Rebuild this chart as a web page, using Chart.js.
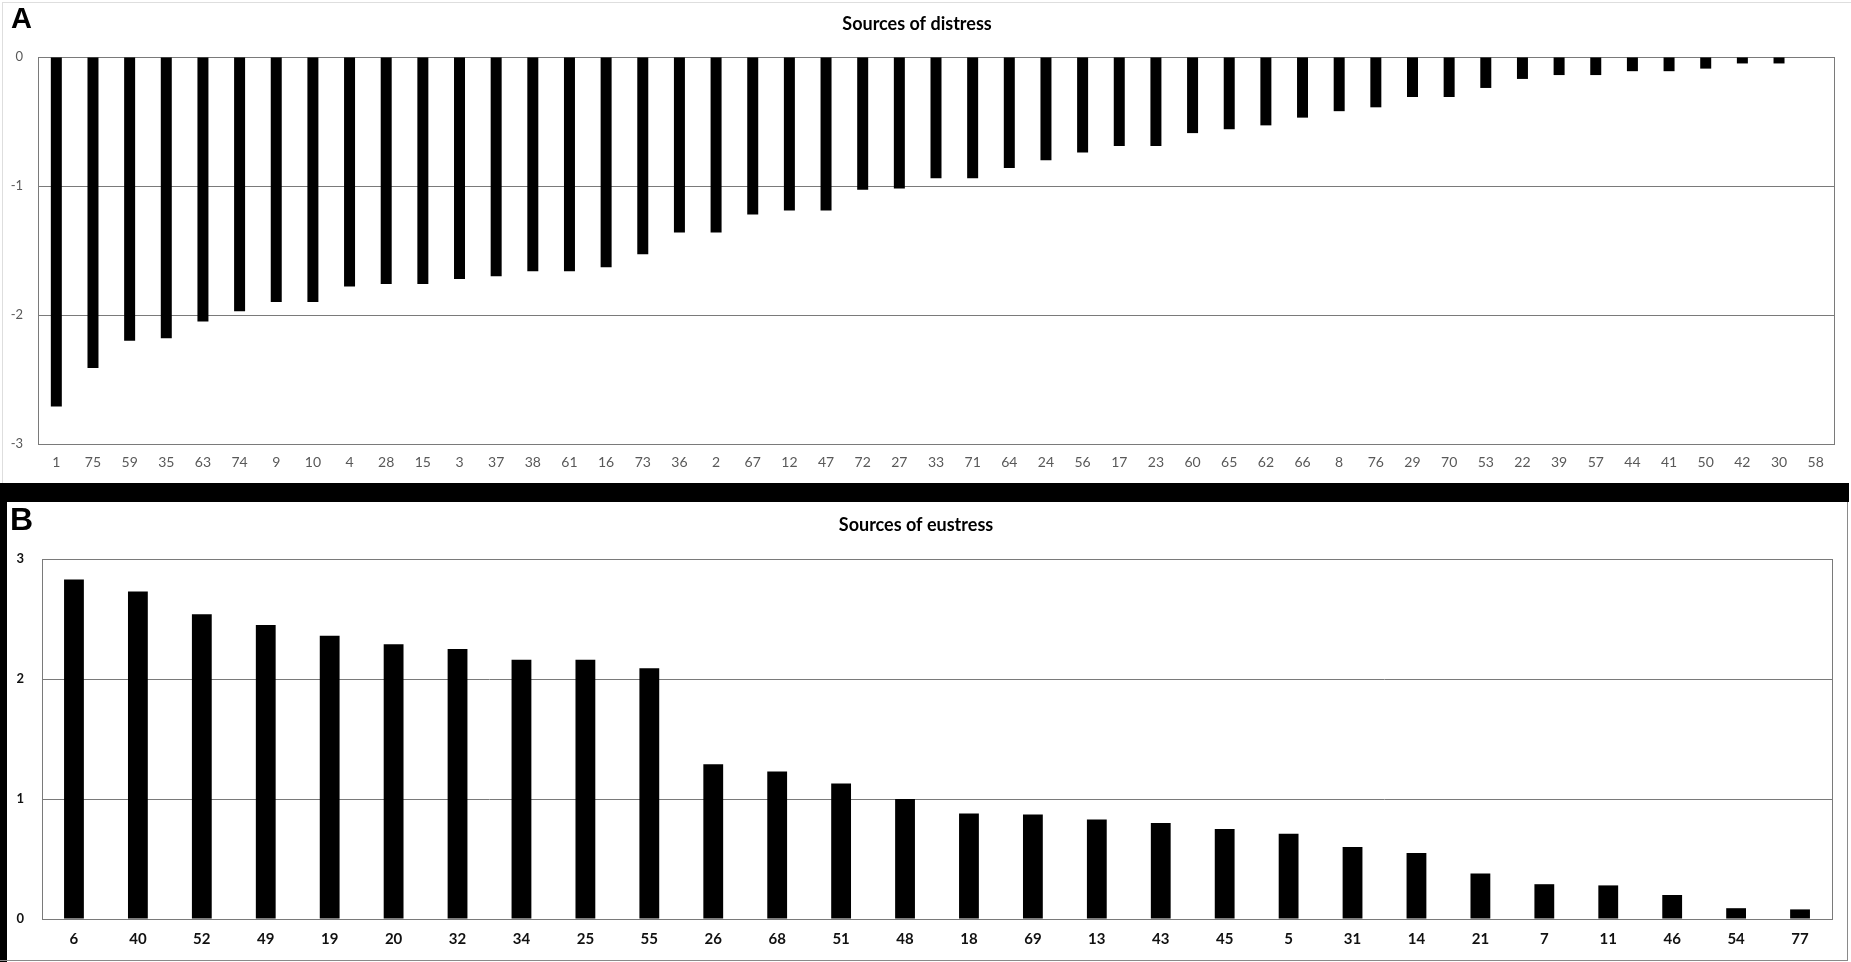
<!DOCTYPE html>
<html>
<head>
<meta charset="utf-8">
<script src="https://cdn.jsdelivr.net/npm/chart.js@4/dist/chart.umd.min.js"></script>
<style>
  body { margin: 0; background: #fff; }
  .box { position: absolute; }
  .letra { position: absolute; font-family: "Liberation Sans", Arial, sans-serif; font-weight: bold; line-height: 1; color: #000; }
</style>
</head>
<body>
<div class="box" style="left:2px;top:2px;width:1849px;height:481px;border-top:1px solid #dedede;border-left:1px solid #dedede;"></div>
<div class="box" style="left:0;top:0;width:1851px;height:483px;"><canvas id="distressChart"></canvas></div>
<div class="letra" style="left:11px;top:4px;font-size:29px;">A</div>

<div class="box" style="left:0;top:483px;width:1849px;height:19px;background:#000;"></div>
<div class="box" style="left:0;top:502px;width:1851px;height:460px;"><canvas id="eustressChart"></canvas></div>
<div class="box" style="left:0;top:483px;width:7px;height:479px;background:#000;"></div>
<div class="box" style="left:1847px;top:502px;width:1px;height:459px;background:#8a8a8a;"></div>
<div class="box" style="left:0;top:960px;width:1848px;height:1px;background:#8a8a8a;"></div>
<div class="letra" style="left:10px;top:503px;font-size:32px;">B</div>

<script>
const distressLabels = ["1", "75", "59", "35", "63", "74", "9", "10", "4", "28", "15", "3", "37", "38", "61", "16", "73", "36", "2", "67", "12", "47", "72", "27", "33", "71", "64", "24", "56", "17", "23", "60", "65", "62", "66", "8", "76", "29", "70", "53", "22", "39", "57", "44", "41", "50", "42", "30", "58"];
const distressValues = [-2.71, -2.41, -2.20, -2.18, -2.05, -1.97, -1.90, -1.90, -1.78, -1.76, -1.76, -1.72, -1.70, -1.66, -1.66, -1.63, -1.53, -1.36, -1.36, -1.22, -1.19, -1.19, -1.03, -1.02, -0.94, -0.94, -0.86, -0.80, -0.74, -0.69, -0.69, -0.59, -0.56, -0.53, -0.47, -0.42, -0.39, -0.31, -0.31, -0.24, -0.17, -0.14, -0.14, -0.11, -0.11, -0.09, -0.05, -0.05, 0];
const distressTicks = [0, -1, -2, -3];

const eustressLabels = ["6", "40", "52", "49", "19", "20", "32", "34", "25", "55", "26", "68", "51", "48", "18", "69", "13", "43", "45", "5", "31", "14", "21", "7", "11", "46", "54", "77"];
const eustressValues = [2.83, 2.73, 2.54, 2.45, 2.36, 2.29, 2.25, 2.16, 2.16, 2.09, 1.29, 1.23, 1.13, 1.00, 0.88, 0.87, 0.83, 0.80, 0.75, 0.71, 0.60, 0.55, 0.38, 0.29, 0.28, 0.20, 0.09, 0.08];
const eustressTicks = [0, 1, 2, 3];

const gridColor = "#7a7a7a";

// contorno da area do grafico
const moldura = {
  id: "moldura",
  beforeDatasetsDraw(chart) {
    const a = chart.chartArea;
    const c = chart.ctx;
    c.save();
    c.strokeStyle = gridColor;
    c.lineWidth = 1;
    c.strokeRect(Math.round(a.left) + 0.5, Math.round(a.top) + 0.5, Math.round(a.right - a.left), Math.round(a.bottom - a.top));
    c.restore();
  },
};

function criarGrafico(id, labels, values, ticks, opts) {
  const ctx = document.getElementById(id).getContext("2d");
  return new Chart(ctx, {
    type: "bar",
    data: {
      labels: labels,
      datasets: [
        {
          data: values,
          backgroundColor: "#000",
          borderWidth: 0,
          barPercentage: 1,
          categoryPercentage: opts.barRatio,
        },
      ],
    },
    options: {
      responsive: true,
      maintainAspectRatio: false,
      animation: false,
      layout: { padding: { left: 0, right: opts.padRight, top: 0, bottom: 0 } },
      plugins: {
        legend: { display: false },
        tooltip: { enabled: false },
        title: {
          display: true,
          text: opts.title,
          color: "#000",
          font: { family: "Lato", size: 18, weight: "bold", lineHeight: 1.2 },
          padding: { top: opts.titleTop, bottom: opts.titleBottom },
        },
      },
      scales: {
        x: {
          grid: { display: false, drawTicks: false },
          border: { display: false },
          ticks: {
            color: opts.tickColor,
            font: { family: "Lato", size: opts.xFont, weight: opts.tickWeight },
            padding: opts.xPad,
            maxRotation: 0,
            autoSkip: false,
          },
          afterFit(scale) { scale.height = opts.xHeight; },
        },
        y: {
          min: Math.min(...ticks),
          max: Math.max(...ticks),
          afterBuildTicks(scale) { scale.ticks = ticks.map(v => ({ value: v })); },
          grid: { color: gridColor, lineWidth: 1, drawTicks: false },
          border: { display: false },
          ticks: {
            color: opts.tickColor,
            font: { family: "Lato", size: opts.yFont, weight: opts.tickWeight },
            padding: opts.yPad,
          },
          afterFit(scale) { scale.width = opts.yWidth; },
        },
      },
    },
    plugins: [moldura],
  });
}

criarGrafico("distressChart", distressLabels, distressValues, distressTicks, {
  title: "Sources of distress",
  titleTop: 13,
  titleBottom: 22.4,
  padRight: 17,
  barRatio: 0.3,
  tickColor: "#595959",
  tickWeight: "normal",
  xFont: 14,
  yFont: 13,
  xPad: 10,
  xHeight: 39,
  yPad: 15,
  yWidth: 38,
});

criarGrafico("eustressChart", eustressLabels, eustressValues, eustressTicks, {
  title: "Sources of eustress",
  titleTop: 12,
  titleBottom: 23.4,
  padRight: 19,
  barRatio: 0.31,
  tickColor: "#111",
  tickWeight: "bold",
  xFont: 15,
  yFont: 13,
  xPad: 11,
  xHeight: 43,
  yPad: 18,
  yWidth: 42,
});
</script>
</body>
</html>
